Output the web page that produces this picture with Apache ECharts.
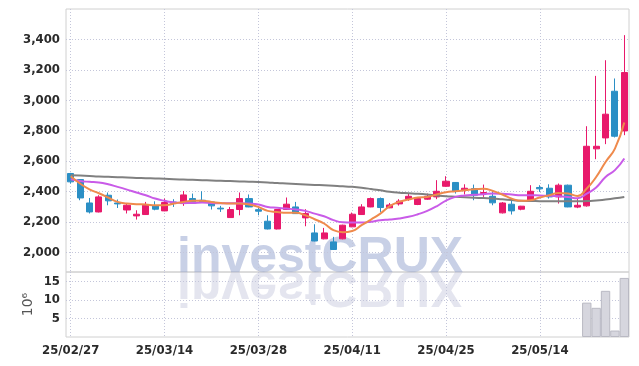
<!DOCTYPE html>
<html>
<head>
<meta charset="utf-8">
<script src="https://cdn.jsdelivr.net/npm/echarts@6/dist/echarts.min.js"></script>
<style>
  html, body { margin: 0; padding: 0; background: #fff; }
  #chart { width: 639px; height: 366px; }
</style>
</head>
<body>
<div id="chart"></div>
<script>
const dates = [
  '25/02/27','25/02/28','25/03/04','25/03/05','25/03/06','25/03/07','25/03/10','25/03/11','25/03/12','25/03/13',
  '25/03/14','25/03/17','25/03/18','25/03/19','25/03/20','25/03/21','25/03/24','25/03/25','25/03/26','25/03/27',
  '25/03/28','25/03/31','25/04/01','25/04/02','25/04/03','25/04/04','25/04/07','25/04/08','25/04/09','25/04/10',
  '25/04/11','25/04/14','25/04/15','25/04/16','25/04/17','25/04/18','25/04/21','25/04/22','25/04/23','25/04/24',
  '25/04/25','25/04/28','25/04/29','25/04/30','25/05/02','25/05/07','25/05/08','25/05/09','25/05/12','25/05/13',
  '25/05/14','25/05/15','25/05/16','25/05/19','25/05/20','25/05/21','25/05/22','25/05/23','25/05/26','25/05/27'
]
const opens = [
  2518, 2478, 2324, 2265, 2375, 2324, 2278, 2239, 2248, 2305,
  2272, 2330, 2320, 2353, 2342, 2331, 2290, 2228, 2281, 2353,
  2280, 2204, 2153, 2281, 2298, 2226, 2127, 2088, 2068, 2088,
  2167, 2248, 2298, 2353, 2292, 2318, 2351, 2314, 2349, 2364,
  2434, 2459, 2406, 2419, 2386, 2368, 2259, 2316, 2283, 2338,
  2426, 2421, 2364, 2441, 2297, 2305, 2680, 2752, 3059, 2798
]
const closes = [
  2463, 2357, 2265, 2364, 2338, 2318, 2309, 2250, 2309, 2283,
  2327, 2322, 2377, 2324, 2331, 2305, 2285, 2281, 2353, 2298,
  2270, 2153, 2281, 2316, 2254, 2254, 2074, 2127, 2018, 2178,
  2250, 2298, 2353, 2294, 2311, 2336, 2368, 2353, 2368, 2401,
  2467, 2401, 2421, 2375, 2393, 2325, 2324, 2272, 2303, 2401,
  2417, 2364, 2441, 2298, 2309, 2697, 2697, 2908, 2763, 3182
]
const lows = [
  2452, 2342, 2255, 2262, 2309, 2291, 2255, 2215, 2245, 2276,
  2270, 2298, 2305, 2322, 2328, 2281, 2265, 2226, 2243, 2296,
  2243, 2150, 2150, 2280, 2252, 2171, 2072, 2085, 2015, 2085,
  2165, 2245, 2296, 2265, 2290, 2307, 2338, 2310, 2345, 2349,
  2430, 2386, 2380, 2342, 2364, 2309, 2255, 2248, 2276, 2331,
  2397, 2353, 2320, 2296, 2290, 2300, 2612, 2711, 2755, 2770
]
const highs = [
  2522, 2480, 2357, 2375, 2393, 2347, 2324, 2276, 2331, 2335,
  2353, 2349, 2403, 2386, 2401, 2333, 2305, 2298, 2393, 2380,
  2298, 2243, 2283, 2360, 2331, 2283, 2184, 2160, 2101, 2181,
  2261, 2316, 2360, 2360, 2324, 2349, 2386, 2360, 2386, 2474,
  2500, 2460, 2447, 2445, 2445, 2408, 2330, 2347, 2305, 2441,
  2441, 2447, 2452, 2445, 2353, 2829, 3160, 3263, 3143, 3428
]
const maShort = [
  2500, 2452, 2414, 2388, 2360, 2331, 2320, 2316, 2314, 2309,
  2309, 2320, 2331, 2338, 2338, 2331, 2324, 2320, 2320, 2314,
  2298, 2272, 2265, 2259, 2259, 2243, 2217, 2189, 2145, 2132,
  2140, 2178, 2215, 2254, 2303, 2331, 2347, 2360, 2364, 2380,
  2395, 2401, 2408, 2415, 2417, 2403, 2380, 2353, 2338, 2342,
  2360, 2375, 2390, 2386, 2370, 2419, 2495, 2594, 2682, 2853
]
const maMid = [
  2480, 2469, 2463, 2459, 2447, 2430, 2412, 2393, 2375, 2353,
  2338, 2327, 2324, 2324, 2327, 2324, 2322, 2322, 2322, 2320,
  2314, 2298, 2292, 2287, 2281, 2272, 2254, 2237, 2211, 2197,
  2195, 2195, 2200, 2211, 2215, 2222, 2233, 2250, 2272, 2302,
  2340, 2364, 2373, 2378, 2382, 2386, 2384, 2380, 2375, 2375,
  2373, 2371, 2368, 2364, 2355, 2386, 2426, 2495, 2540, 2617
]
const maLong = [
  2507, 2504, 2501, 2498, 2496, 2494, 2491, 2489, 2487, 2485,
  2483, 2480, 2478, 2476, 2474, 2472, 2470, 2468, 2466, 2464,
  2462, 2459, 2455, 2452, 2449, 2446, 2443, 2440, 2437, 2434,
  2430, 2424, 2416, 2407, 2398, 2392, 2388, 2384, 2379, 2373,
  2368, 2365, 2362, 2359, 2356, 2353, 2348, 2343, 2338, 2337,
  2336, 2335, 2335, 2335, 2335, 2337, 2340, 2347, 2355, 2364
]
// volume in millions, only the last days are filled in
const volume = [
  null, null, null, null, null, null, null, null, null, null,
  null, null, null, null, null, null, null, null, null, null,
  null, null, null, null, null, null, null, null, null, null,
  null, null, null, null, null, null, null, null, null, null,
  null, null, null, null, null, null, null, null, null, null,
  null, null, null, null, null, 9.3, 7.9, 12.5, 1.75, 16
]
const priceTicks = [2000, 2200, 2400, 2600, 2800, 3000, 3200, 3400]
const volTicks = [5, 10, 15]

const gridLine = { lineStyle: { color: '#c4c6da', width: 1, type: [1, 2] } }
const xSplit = { show: true, interval: 9, alignWithLabel: true, lineStyle: gridLine.lineStyle }
const labelStyle = { color: '#2a2a2a', fontFamily: 'DejaVu Sans Condensed', fontWeight: 'bold', fontSize: 13 }

const chart = echarts.init(document.getElementById('chart'), null, { renderer: 'canvas' })

chart.setOption({
  animation: false,
  backgroundColor: '#fff',
  grid: [
    { left: 66, right: 10, top: 9, height: 263, show: true, borderColor: '#d0d0d0', borderWidth: 1 },
    { left: 66, right: 10, top: 272, bottom: 29, show: true, borderColor: '#d0d0d0', borderWidth: 1 }
  ],
  graphic: [
    { type: 'text', x: 177, y: 258, silent: true, z: 0,
      style: { text: 'investCRUX', fontFamily: 'Liberation Sans', fontWeight: 'bold', fontSize: 50,
        fill: 'rgba(145,162,205,0.5)', textAlign: 'left', textVerticalAlign: 'middle' } },
    { type: 'group', x: 0, y: 272, scaleY: -1, silent: true, z: 0,
      children: [
        { type: 'text', x: 177, y: -14,
          style: { text: 'investCRUX', fontFamily: 'Liberation Sans', fontWeight: 'bold', fontSize: 50,
            fill: 'rgba(185,187,212,0.38)', textAlign: 'left', textVerticalAlign: 'middle' } }
      ] }
  ],
  xAxis: [
    { type: 'category', gridIndex: 0, data: dates, boundaryGap: true,
      axisLine: { show: false }, axisTick: { show: false }, axisLabel: { show: false },
      splitLine: xSplit },
    { type: 'category', gridIndex: 1, data: dates, boundaryGap: true,
      axisLine: { show: false }, axisTick: { show: false },
      axisLabel: Object.assign({ interval: 9, margin: 7 }, labelStyle),
      splitLine: xSplit }
  ],
  yAxis: [
    { type: 'value', gridIndex: 0, min: 1870, max: 3600,
      axisLine: { show: false }, axisTick: { show: false, customValues: priceTicks },
      axisLabel: Object.assign({ customValues: priceTicks, margin: 6,
        formatter: v => v.toLocaleString('en-US') }, labelStyle),
      splitLine: gridLine },
    { type: 'value', gridIndex: 1, min: 0, max: 17.6,
      name: '10⁶', nameLocation: 'middle', nameGap: 31, nameRotate: 90, nameMoveOverlap: false,
      nameTextStyle: { color: '#555', fontFamily: 'DejaVu Sans', fontSize: 14 },
      axisLine: { show: false }, axisTick: { show: false, customValues: volTicks },
      axisLabel: Object.assign({ customValues: volTicks, margin: 6 }, labelStyle),
      splitLine: gridLine }
  ],
  series: [
    { type: 'candlestick', xAxisIndex: 0, yAxisIndex: 0, barWidth: '70%',
      data: dates.map((d, i) => [opens[i], closes[i], lows[i], highs[i]]),
      itemStyle: { color: '#e8196b', color0: '#2b8fc5', borderColor: '#e8196b', borderColor0: '#2b8fc5', borderWidth: 1 } },
    { type: 'line', xAxisIndex: 0, yAxisIndex: 0, data: maLong, smooth: true, showSymbol: false,
      lineStyle: { color: '#808080', width: 2 } },
    { type: 'line', xAxisIndex: 0, yAxisIndex: 0, data: maMid, smooth: true, showSymbol: false,
      lineStyle: { color: '#c95be8', width: 2 } },
    { type: 'line', xAxisIndex: 0, yAxisIndex: 0, data: maShort, smooth: true, showSymbol: false,
      lineStyle: { color: '#ef8a4c', width: 2 } },
    { type: 'bar', xAxisIndex: 1, yAxisIndex: 1, data: volume, barWidth: '100%',
      itemStyle: { color: '#d6d6de', borderColor: '#b9b9c3', borderWidth: 1 } }
  ]
})

window.addEventListener('resize', () => chart.resize())
</script>
</body>
</html>
